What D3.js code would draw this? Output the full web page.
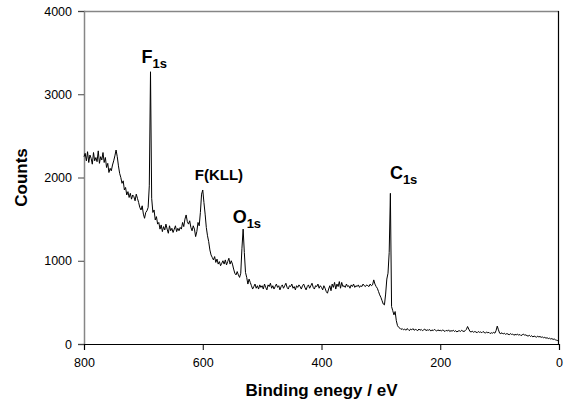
<!DOCTYPE html>
<html>
<head>
<meta charset="utf-8">
<script src="https://cdn.jsdelivr.net/npm/d3@7"></script>
<style>
  body { margin: 0; background: #fff; }
  svg text { font-family: "Liberation Sans", Arial, sans-serif; }
</style>
</head>
<body>
<div id="chart"></div>
<script>
// XPS survey spectrum, counts every 2 eV (block start energy, going down)
var block800 = [2250, 2290, 2200, 2310, 2180, 2270, 2230, 2160, 2300, 2200,
    2240, 2190, 2320, 2170, 2250, 2210, 2300, 2180, 2240, 2120,
    2170, 2060, 2110, 2080, 2150, 2200, 2260, 2330, 2250, 2140,
    2050, 2000, 1930, 1960, 1850, 1880, 1790, 1830, 1760, 1810,
    1740, 1790, 1770, 1720, 1800, 1750, 1700, 1640, 1610, 1660]
var block700 = [1560, 1510, 1580, 1600, 1640, 1900, 3270, 1750, 1580, 1610,
    1490, 1530, 1440, 1460, 1380, 1430, 1350, 1410, 1370, 1440,
    1380, 1330, 1420, 1360, 1390, 1340, 1380, 1420, 1350, 1390,
    1360, 1400, 1380, 1460, 1410, 1500, 1550, 1470, 1440, 1480,
    1400, 1360, 1420, 1380, 1290, 1350, 1460, 1420, 1580, 1800]
var block600 = [1850, 1700, 1560, 1400, 1300, 1230, 1130, 1070, 1040, 1010,
    1050, 980, 1020, 960, 990, 940, 970, 1000, 960, 1010,
    950, 990, 1030, 960, 1000, 960, 900, 850, 830, 870,
    830, 800, 850, 1150, 1380, 1100, 860, 800, 720, 780,
    740, 700, 660, 690, 720, 670, 700, 660, 710, 680]
var block500 = [700, 660, 720, 680, 650, 710, 690, 730, 670, 700,
    660, 690, 720, 680, 700, 650, 690, 710, 670, 700,
    730, 680, 660, 700, 690, 720, 670, 690, 650, 700,
    680, 710, 690, 660, 700, 720, 680, 650, 690, 710,
    670, 700, 730, 680, 660, 700, 690, 720, 670, 700]
var block400 = [680, 650, 700, 670, 630, 610, 660, 700, 640, 720,
    680, 740, 660, 720, 690, 750, 670, 740, 690, 700,
    680, 720, 690, 700, 670, 710, 690, 720, 680, 700,
    690, 710, 680, 700, 690, 720, 700, 690, 710, 700,
    690, 720, 700, 710, 770, 720, 690, 670, 630, 590]
var block300 = [560, 520, 480, 470, 600, 780, 850, 1100, 1810, 450,
    400, 350, 390, 280, 220, 200, 190, 175, 185, 170,
    180, 165, 185, 175, 160, 180, 170, 185, 165, 175,
    170, 160, 180, 165, 175, 160, 170, 180, 160, 170,
    165, 175, 155, 170, 160, 175, 165, 155, 170, 160]
var block200 = [165, 155, 170, 160, 150, 165, 155, 170, 150, 160,
    155, 165, 150, 160, 145, 155, 160, 150, 165, 155,
    150, 160, 175, 210, 180, 150, 145, 155, 140, 150,
    145, 135, 150, 140, 145, 135, 150, 140, 130, 145,
    135, 140, 125, 135, 130, 140, 130, 160, 215, 170]
var block100 = [130, 125, 135, 120, 130, 115, 125, 120, 110, 125,
    115, 120, 105, 115, 110, 120, 105, 115, 100, 110,
    120, 105, 110, 100, 95, 105, 90, 100, 85, 95,
    90, 80, 95, 85, 90, 80, 85, 75, 80, 70,
    75, 65, 70, 60, 65, 55, 60, 50, 45, 40]
var countAtZero = 30

var blockStarts = [800, 700, 600, 500, 400, 300, 200, 100]
var blocks = [block800, block700, block600, block500, block400, block300, block200, block100]
var STEP = 2

var xTicks = [800, 600, 400, 200, 0]
var yTicks = [0, 1000, 2000, 3000, 4000]

var peaks = [
    { name: "F", sub: "1s", energy: 688, counts: 3270, dx: -9, dy: -8.5 },
    { name: "F(KLL)", sub: "", energy: 600, counts: 1850, dx: -8, dy: -9.5 },
    { name: "O", sub: "1s", energy: 532, counts: 1380, dx: -10.5, dy: -6 },
    { name: "C", sub: "1s", energy: 284, counts: 1810, dx: -0.5, dy: -14 }
]

var spectrum = []
blocks.forEach(function(b, bi) {
    b.forEach(function(c, i) {
        spectrum.push([blockStarts[bi] - i * STEP, c])
    })
})
spectrum.push([0, countAtZero])

var W = 564, H = 405
var margin = { top: 11, right: 5, bottom: 61, left: 84 }
var width = W - margin.left - margin.right,
    height = H - margin.top - margin.bottom

var svg = d3.select("#chart").append("svg")
    .attr("width", W)
    .attr("height", H)

var g = svg.append("g")
    .attr("transform", "translate(" + margin.left + "," + margin.top + ")")

var x = d3.scaleLinear().domain([800, 0]).range([0, width])
var y = d3.scaleLinear().domain([0, 4000]).range([height, 0])

// frame: top and left grey, right and bottom black
g.append("line").attr("x1", 0).attr("x2", width).attr("y1", 0.5).attr("y2", 0.5)
    .attr("stroke", "#868686").attr("stroke-width", 1.5)
g.append("line").attr("x1", width - 0.5).attr("x2", width - 0.5).attr("y1", 0).attr("y2", height)
    .attr("stroke", "#000").attr("stroke-width", 1.2)

var yAxis = g.append("g")
    .call(d3.axisLeft(y).tickValues(yTicks).tickSize(6).tickPadding(6).tickFormat(d3.format("d")))
yAxis.select(".domain").attr("stroke", "#868686").attr("stroke-width", 1.5)
yAxis.selectAll(".tick line").attr("stroke", "#444")
yAxis.selectAll("text").attr("font-size", "12.5px").attr("fill", "#000")

var xAxis = g.append("g")
    .attr("transform", "translate(0," + height + ")")
    .call(d3.axisBottom(x).tickValues(xTicks).tickSize(6).tickPadding(8).tickFormat(d3.format("d")))
xAxis.select(".domain").attr("stroke", "#000").attr("stroke-width", 1.2)
xAxis.selectAll(".tick line").attr("stroke", "#000")
xAxis.selectAll("text").attr("font-size", "12.5px").attr("fill", "#000")

var line = d3.line()
    .x(function(d) { return x(d[0]) })
    .y(function(d) { return y(d[1]) })

g.append("path")
    .datum(spectrum)
    .attr("fill", "none")
    .attr("stroke", "#000")
    .attr("stroke-width", 1)
    .attr("stroke-linejoin", "round")
    .attr("d", line)

// peak labels
peaks.forEach(function(p) {
    var t = g.append("text")
        .attr("x", x(p.energy) + p.dx)
        .attr("y", y(p.counts) + p.dy)
        .attr("font-weight", "bold")
        .attr("font-size", p.sub ? "18px" : "15px")
        .attr("fill", "#000")
    t.append("tspan").text(p.name)
    if (p.sub) {
        t.append("tspan").attr("dy", 5).attr("font-size", "13px").text(p.sub)
    }
})

// axis titles
svg.append("text")
    .attr("x", margin.left + width / 2)
    .attr("y", 396)
    .attr("text-anchor", "middle")
    .attr("font-weight", "bold")
    .attr("font-size", "17px")
    .text("Binding enegy / eV")

svg.append("text")
    .attr("transform", "translate(27," + (margin.top + height / 2) + ") rotate(-90)")
    .attr("text-anchor", "middle")
    .attr("font-weight", "bold")
    .attr("font-size", "17px")
    .text("Counts")
</script>
</body>
</html>
